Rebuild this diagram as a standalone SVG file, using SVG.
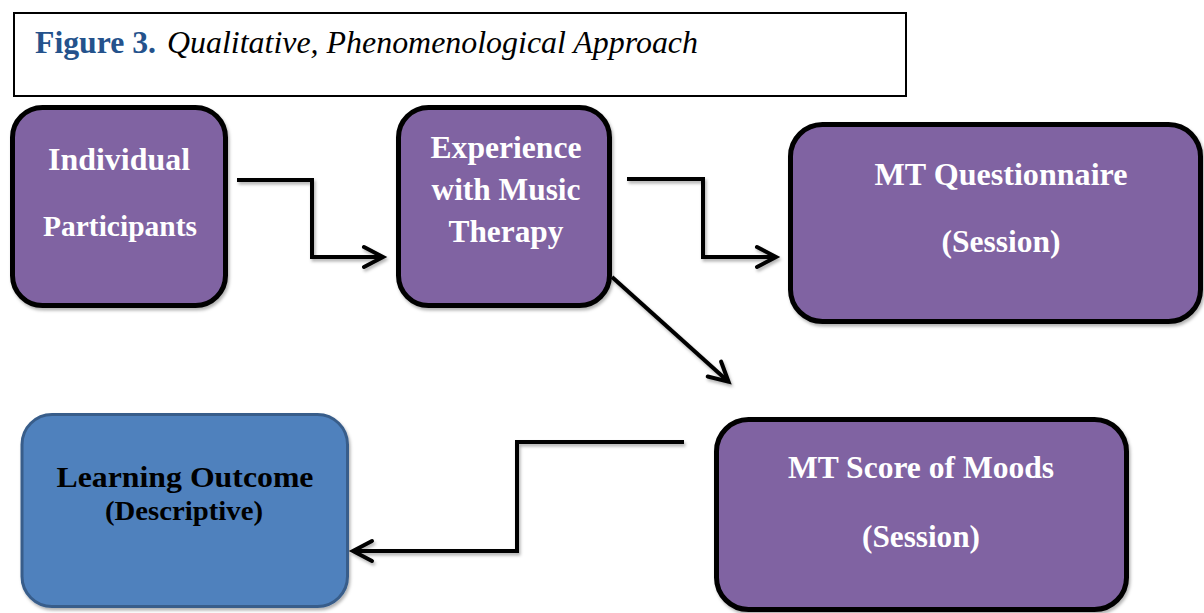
<svg xmlns="http://www.w3.org/2000/svg" width="1204" height="613" viewBox="0 0 1204 613">
  <style>
    .node { fill: #8064a2; stroke: #000; stroke-width: 5; }
    .blue { fill: #4f81bd; stroke: #385d8a; stroke-width: 3; }
    .lbl { font-family: "Liberation Serif", "Times New Roman", serif; font-weight: bold; fill: #fff; text-anchor: middle; }
    .dark { fill: #000; }
    .ttl { font-family: "Liberation Serif", "Times New Roman", serif; }
    .conn { fill: none; stroke: #000; stroke-width: 4; stroke-linejoin: miter; }
  </style>
  <defs>
    <filter id="sh" x="-10%" y="-10%" width="130%" height="130%">
      <feDropShadow dx="1.5" dy="2.5" stdDeviation="1.5" flood-color="#000" flood-opacity="0.3"/>
    </filter>
    <marker id="arr" markerUnits="userSpaceOnUse" markerWidth="30" markerHeight="30" viewBox="-25 -15 30 30" refX="0" refY="0" orient="auto">
      <path d="M-19,-10 L0,0 L-19,10" fill="none" stroke="#000" stroke-width="4" stroke-linejoin="miter" stroke-linecap="round"/>
    </marker>
  </defs>
  <rect width="1204" height="613" fill="#fff"/>

  <g id="title">
    <rect x="14" y="13" width="892" height="83" fill="#fff" stroke="#000" stroke-width="2"/>
    <text class="ttl" x="35" y="53" font-size="32" font-weight="bold" fill="#24528c" textLength="121" lengthAdjust="spacingAndGlyphs">Figure 3.</text>
    <text class="ttl" x="167" y="53" font-size="31" font-style="italic" fill="#000" textLength="531" lengthAdjust="spacingAndGlyphs">Qualitative, Phenomenological Approach</text>
  </g>

  <g id="connectors" filter="url(#sh)">
    <path class="conn" d="M237,180 H312 V257 H383" marker-end="url(#arr)"/>
    <path class="conn" d="M627,179 H703 V257 H776" marker-end="url(#arr)"/>
    <path class="conn" d="M612,277 L728.5,381.7" marker-end="url(#arr)"/>
    <path class="conn" d="M684,442 H517 V551 H353" marker-end="url(#arr)"/>
  </g>

  <g id="individual-participants">
    <rect class="node" x="12.5" y="107.5" width="213" height="198" rx="30" filter="url(#sh)"/>
    <text class="lbl" x="119" y="170" font-size="32" textLength="142" lengthAdjust="spacingAndGlyphs">Individual</text>
    <text class="lbl" x="120" y="236" font-size="29" textLength="154" lengthAdjust="spacingAndGlyphs">Participants</text>
  </g>

  <g id="experience">
    <rect class="node" x="398.5" y="107.5" width="211" height="198" rx="30" filter="url(#sh)"/>
    <text class="lbl" x="506" y="158" font-size="31" textLength="151" lengthAdjust="spacingAndGlyphs">Experience</text>
    <text class="lbl" x="506" y="200" font-size="31" textLength="149" lengthAdjust="spacingAndGlyphs">with Music</text>
    <text class="lbl" x="506" y="242" font-size="31" textLength="115" lengthAdjust="spacingAndGlyphs">Therapy</text>
  </g>

  <g id="mt-questionnaire">
    <rect class="node" x="790.5" y="124.5" width="410" height="197" rx="32" filter="url(#sh)"/>
    <text class="lbl" x="1001" y="185" font-size="32" textLength="253" lengthAdjust="spacingAndGlyphs">MT Questionnaire</text>
    <text class="lbl" x="1001" y="252" font-size="32" textLength="119" lengthAdjust="spacingAndGlyphs">(Session)</text>
  </g>

  <g id="mt-score-of-moods">
    <rect class="node" x="716.5" y="419.5" width="410" height="190" rx="32" filter="url(#sh)"/>
    <text class="lbl" x="921" y="478" font-size="31" textLength="266" lengthAdjust="spacingAndGlyphs">MT Score of Moods</text>
    <text class="lbl" x="921" y="547" font-size="31" textLength="118" lengthAdjust="spacingAndGlyphs">(Session)</text>
  </g>

  <g id="learning-outcome">
    <rect class="blue" x="22" y="414.5" width="325.5" height="192" rx="30" filter="url(#sh)"/>
    <text class="lbl dark" x="185" y="487" font-size="29" textLength="257" lengthAdjust="spacingAndGlyphs">Learning Outcome</text>
    <text class="lbl dark" x="184" y="520" font-size="27" textLength="158" lengthAdjust="spacingAndGlyphs">(Descriptive)</text>
  </g>
</svg>
